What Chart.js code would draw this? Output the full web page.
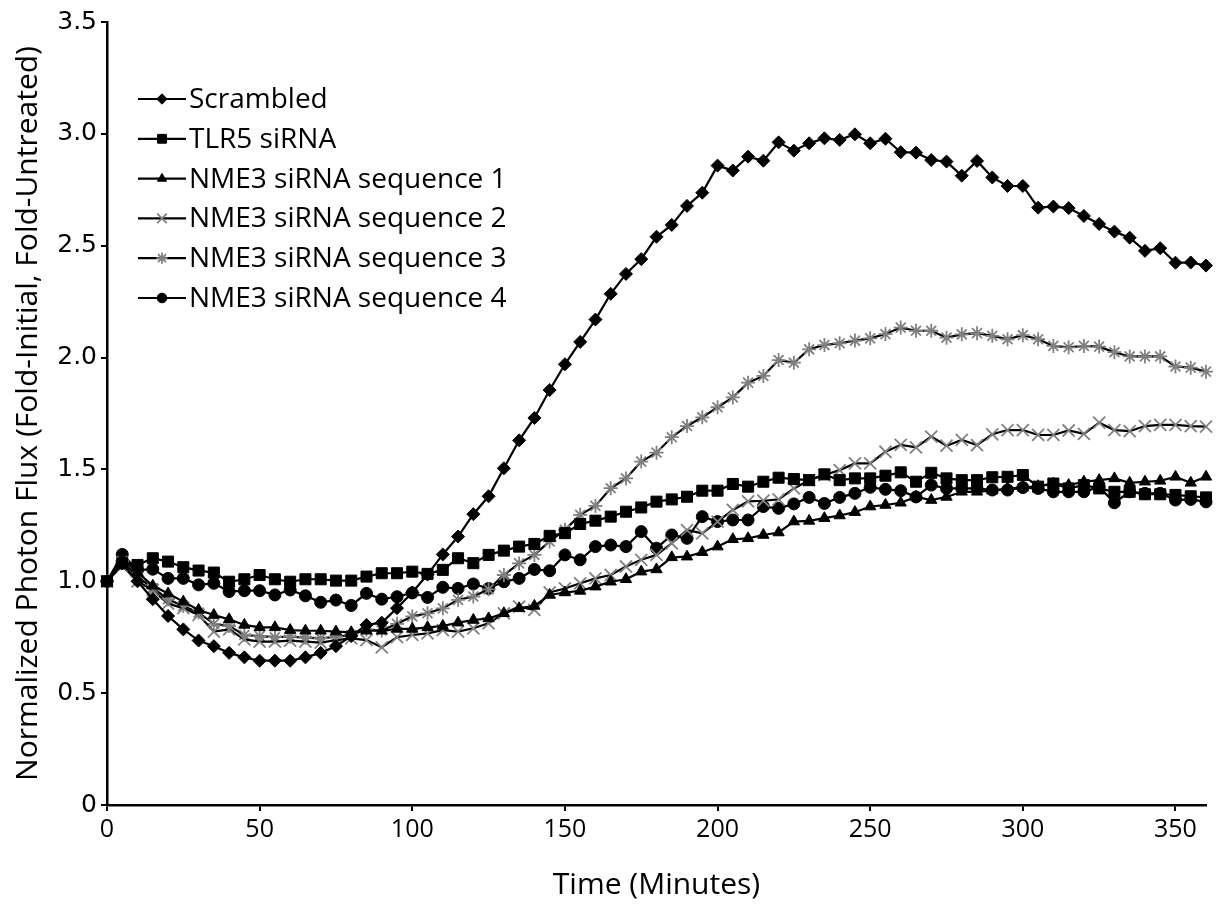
<!DOCTYPE html>
<html>
<head>
<meta charset="utf-8">
<script src="https://cdn.jsdelivr.net/npm/chart.js@4.4.1/dist/chart.umd.min.js"></script>
<style>
  html, body { margin: 0; padding: 0; background: #fff; }
  #wrap { width: 1225px; height: 905px; }
</style>
</head>
<body>
<div id="wrap"><canvas id="myChart" width="1225" height="905"></canvas></div>
<script>
// time points (minutes)
var times = [0, 5, 10, 15, 20, 25, 30, 35, 40, 45, 50, 55, 60, 65, 70, 75, 80, 85, 90, 95,
  100, 105, 110, 115, 120, 125, 130, 135, 140, 145, 150, 155, 160, 165, 170, 175, 180, 185, 190, 195,
  200, 205, 210, 215, 220, 225, 230, 235, 240, 245, 250, 255, 260, 265, 270, 275, 280, 285, 290, 295,
  300, 305, 310, 315, 320, 325, 330, 335, 340, 345, 350, 355, 360];

var seriesNames = ["Scrambled", "TLR5 siRNA", "NME3 siRNA sequence 1", "NME3 siRNA sequence 2",
  "NME3 siRNA sequence 3", "NME3 siRNA sequence 4"];

// values
var scrambled = [1.00, 1.08, 1.00, 0.92, 0.845, 0.785, 0.735, 0.71, 0.68, 0.66, 0.645, 0.645, 0.645, 0.66, 0.68, 0.71, 0.755, 0.805, 0.815, 0.88,
  0.95, 1.03, 1.12, 1.20, 1.30, 1.38, 1.505, 1.63, 1.73, 1.855, 1.97, 2.07, 2.17, 2.285, 2.374, 2.44, 2.54, 2.593, 2.678, 2.737,
  2.858, 2.836, 2.898, 2.88, 2.962, 2.925, 2.958, 2.98, 2.973, 2.998, 2.958, 2.978, 2.918, 2.916, 2.883, 2.876, 2.813, 2.879, 2.805, 2.767,
  2.767, 2.67, 2.675, 2.668, 2.633, 2.597, 2.563, 2.536, 2.477, 2.489, 2.424, 2.425, 2.411];

var tlr5 = [1.00, 1.08, 1.073, 1.103, 1.088, 1.063, 1.048, 1.039, 0.998, 1.009, 1.028, 1.009, 0.998, 1.009, 1.009, 1.003, 1.003, 1.021, 1.036, 1.036,
  1.043, 1.033, 1.051, 1.103, 1.081, 1.118, 1.137, 1.155, 1.167, 1.203, 1.215, 1.256, 1.271, 1.289, 1.311, 1.33, 1.356, 1.366, 1.378, 1.405,
  1.405, 1.435, 1.423, 1.445, 1.463, 1.457, 1.452, 1.478, 1.452, 1.46, 1.46, 1.472, 1.487, 1.445, 1.485, 1.46, 1.452, 1.452, 1.465, 1.467,
  1.475, 1.423, 1.437, 1.415, 1.43, 1.415, 1.40, 1.40, 1.389, 1.389, 1.386, 1.38, 1.375];

var seq1 = [1.00, 1.10, 1.04, 0.98, 0.945, 0.909, 0.872, 0.849, 0.83, 0.805, 0.794, 0.794, 0.782, 0.779, 0.779, 0.775, 0.772, 0.779, 0.779, 0.787,
  0.787, 0.794, 0.80, 0.815, 0.827, 0.834, 0.857, 0.879, 0.89, 0.939, 0.95, 0.957, 0.976, 0.998, 1.009, 1.043, 1.053, 1.107, 1.11, 1.13,
  1.155, 1.188, 1.192, 1.207, 1.218, 1.267, 1.27, 1.282, 1.294, 1.309, 1.334, 1.341, 1.351, 1.377, 1.363, 1.377, 1.40, 1.40, 1.405, 1.415,
  1.419, 1.425, 1.437, 1.43, 1.445, 1.452, 1.46, 1.44, 1.445, 1.449, 1.467, 1.44, 1.467];

var seq2 = [1.00, 1.07, 1.00, 0.96, 0.90, 0.88, 0.85, 0.775, 0.785, 0.74, 0.73, 0.73, 0.735, 0.73, 0.726, 0.737, 0.745, 0.737, 0.705, 0.75,
  0.76, 0.767, 0.782, 0.775, 0.79, 0.812, 0.857, 0.887, 0.872, 0.95, 0.968, 0.991, 1.013, 1.028, 1.066, 1.096, 1.118, 1.17, 1.229, 1.214,
  1.267, 1.319, 1.357, 1.36, 1.366, 1.415, 1.452, 1.475, 1.497, 1.527, 1.527, 1.579, 1.61, 1.599, 1.647, 1.606, 1.632, 1.609, 1.657, 1.676,
  1.676, 1.654, 1.654, 1.674, 1.659, 1.709, 1.676, 1.671, 1.694, 1.699, 1.699, 1.694, 1.691];

var seq3 = [1.00, 1.09, 1.02, 0.97, 0.92, 0.89, 0.86, 0.81, 0.80, 0.76, 0.755, 0.75, 0.752, 0.748, 0.745, 0.752, 0.76, 0.785, 0.78, 0.81,
  0.843, 0.857, 0.879, 0.917, 0.932, 0.964, 1.028, 1.08, 1.118, 1.178, 1.23, 1.297, 1.337, 1.416, 1.46, 1.535, 1.575, 1.644, 1.694, 1.733,
  1.778, 1.822, 1.888, 1.918, 1.989, 1.977, 2.037, 2.056, 2.064, 2.076, 2.086, 2.105, 2.134, 2.12, 2.12, 2.089, 2.104, 2.109, 2.097, 2.082,
  2.10, 2.082, 2.052, 2.046, 2.052, 2.049, 2.024, 2.005, 2.005, 2.005, 1.96, 1.955, 1.937];

var seq4 = [1.00, 1.12, 1.05, 1.054, 1.013, 1.013, 0.984, 0.991, 0.954, 0.958, 0.958, 0.939, 0.961, 0.935, 0.906, 0.916, 0.892, 0.946, 0.92, 0.931,
  0.948, 0.928, 0.973, 0.968, 0.988, 0.968, 0.998, 1.013, 1.053, 1.047, 1.118, 1.096, 1.155, 1.162, 1.155, 1.222, 1.148, 1.207, 1.192, 1.289,
  1.267, 1.274, 1.274, 1.334, 1.326, 1.346, 1.375, 1.348, 1.375, 1.393, 1.42, 1.411, 1.405, 1.377, 1.43, 1.415, 1.415, 1.415, 1.408, 1.408,
  1.419, 1.415, 1.40, 1.40, 1.40, 1.422, 1.351, 1.40, 1.393, 1.393, 1.363, 1.366, 1.355];

var allSeries = [scrambled, tlr5, seq1, seq2, seq3, seq4];
var styles = ["rectRot", "rect", "triangle", "crossRot", "star", "circle"];
var radii = [6.5, 7.8, 6.5, 8.5, 7, 6];
var markColors = ["#000", "#000", "#000", "#808080", "#808080", "#000"];
var markWidths = [1, 1, 1, 1.8, 1.8, 1];

function pairs(arr) {
  var out = [];
  for (var i = 0; i < times.length; i++) out.push({ x: times[i], y: arr[i] });
  return out;
}

var datasets = [];
for (var i = 0; i < allSeries.length; i++) {
  datasets.push({
    label: seriesNames[i],
    data: pairs(allSeries[i]),
    borderColor: "#000",
    borderWidth: 2.2,
    pointStyle: styles[i],
    pointRadius: radii[i],
    pointBackgroundColor: markColors[i],
    pointBorderColor: markColors[i],
    pointBorderWidth: markWidths[i],
    tension: 0,
    clip: false
  });
}

// legend drawn inside the plot, one row per series
var insideLegend = {
  id: "insideLegend",
  afterDraw: function (chart) {
    var ctx = chart.ctx;
    chart.data.datasets.forEach(function (ds, i) {
      var y = 99 + i * 39.8;
      ctx.save();
      ctx.strokeStyle = "#000";
      ctx.lineWidth = 2.2;
      ctx.beginPath();
      ctx.moveTo(138, y);
      ctx.lineTo(186, y);
      ctx.stroke();
      ctx.fillStyle = ds.pointBackgroundColor;
      ctx.strokeStyle = ds.pointBorderColor;
      ctx.lineWidth = ds.pointBorderWidth;
      Chart.helpers.drawPoint(ctx, {
        pointStyle: ds.pointStyle,
        rotation: 0,
        radius: ds.pointRadius * 0.8,
        borderWidth: ds.pointBorderWidth
      }, 162, y);
      ctx.fillStyle = "#000";
      ctx.font = "28px 'Open Sans'";
      ctx.textBaseline = "middle";
      ctx.textAlign = "left";
      ctx.fillText(ds.label, 189, y + 1);
      ctx.restore();
    });
  }
};

var ctx = document.getElementById("myChart").getContext("2d");
var chart = new Chart(ctx, {
  type: "line",
  data: { datasets: datasets },
  options: {
    responsive: false,
    animation: false,
    layout: { padding: { left: 0, right: 19, top: 22, bottom: 0 } },
    plugins: {
      legend: { display: false },
      tooltip: { enabled: false }
    },
    scales: {
      x: {
        type: "linear",
        min: 0,
        max: 360,
        afterFit: function (scale) { scale.height = 100; },
        border: { display: true, color: "#000", width: 2.5 },
        grid: { display: true, drawOnChartArea: false, drawTicks: true, tickLength: 6, color: "#000", lineWidth: 2 },
        ticks: {
          stepSize: 50,
          includeBounds: false,
          padding: 4,
          color: "#000",
          font: { family: "'Liberation Sans Narrow', 'Open Sans'", size: 25 }
        },
        title: {
          display: true,
          text: "Time (Minutes)",
          color: "#000",
          font: { family: "'Open Sans'", size: 30 },
          padding: { top: 0, bottom: 2 }
        }
      },
      y: {
        type: "linear",
        min: 0,
        max: 3.5,
        afterFit: function (scale) { scale.width = 107; },
        border: { display: true, color: "#000", width: 2.5 },
        grid: { display: true, drawOnChartArea: false, drawTicks: true, tickLength: 6, color: "#000", lineWidth: 2 },
        ticks: {
          stepSize: 0.5,
          padding: 4,
          color: "#000",
          font: { family: "'DejaVu Sans'", size: 25 },
          callback: function (v) { return v === 0 ? "0" : v.toFixed(1); }
        },
        title: {
          display: true,
          text: "Normalized Photon Flux (Fold-Initial, Fold-Untreated)",
          color: "#000",
          font: { family: "'Open Sans'", size: 30 },
          padding: { top: 10, bottom: 0 }
        }
      }
    }
  },
  plugins: [insideLegend]
});
</script>
</body>
</html>
